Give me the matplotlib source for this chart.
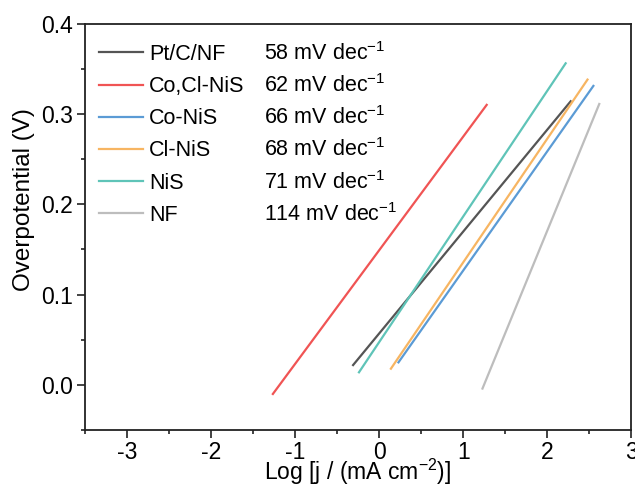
import matplotlib
matplotlib.use('Agg')
import matplotlib.pyplot as plt
from matplotlib.ticker import MultipleLocator

plt.rcParams['font.family'] = ['Liberation Sans', 'DejaVu Sans']
plt.rcParams['mathtext.fontset'] = 'custom'
plt.rcParams['mathtext.rm'] = 'Liberation Sans'
plt.rcParams['mathtext.it'] = 'Liberation Sans:italic'
plt.rcParams['mathtext.bf'] = 'Liberation Sans:bold'

# ---- data ----
samples = ['Pt/C/NF', 'Co,Cl-NiS', 'Co-NiS', 'Cl-NiS', 'NiS', 'NF']
slopes = ['58', '62', '66', '68', '71', '114']
x_start = [-0.31, -1.265, 0.23, 0.14, -0.24, 1.23]
x_end = [2.28, 1.28, 2.55, 2.48, 2.22, 2.62]
y_start = [0.022, -0.010, 0.025, 0.018, 0.014, -0.004]
y_end = [0.314, 0.310, 0.331, 0.338, 0.356, 0.311]
colors = ['#555555', '#f05454', '#5b9bd5', '#f7b562', '#5fc4b8', '#bdbdbd']

fig = plt.figure(figsize=(6.35, 4.91), dpi=100)
ax = fig.add_axes([0.134, 0.124, 0.86, 0.828])

handles = []
for name, xs, xe, ys, ye, c in zip(samples, x_start, x_end, y_start, y_end, colors):
    h, = ax.plot([xs, xe], [ys, ye], color=c, lw=1.6, label=name)
    handles.append(h)

ax.set_xlim(-3.5, 3)
ax.set_ylim(-0.05, 0.4)
ax.xaxis.set_minor_locator(MultipleLocator(0.5))
ax.yaxis.set_minor_locator(MultipleLocator(0.05))
ax.set_xticks([-3, -2, -1, 0, 1, 2, 3])
ax.set_xticklabels(['-3', '-2', '-1', '0', '1', '2', '3'])
ax.set_yticks([0.0, 0.1, 0.2, 0.3, 0.4])
ax.set_yticklabels(['0.0', '0.1', '0.2', '0.3', '0.4'])

for s in ax.spines.values():
    s.set_linewidth(1.3)
    s.set_color('#222222')
ax.tick_params(which='major', direction='out', length=5.5, width=1.2,
               labelsize=16.5, pad=3, color='#222222')
ax.tick_params(axis='x', which='major', pad=2.5)
ax.tick_params(which='minor', direction='out', length=3, width=1.2, color='#222222')

ax.set_xlabel('Log [j / (mA cm$^{-2}$)]', fontsize=16.5, labelpad=-5)
ax.set_ylabel('Overpotential (V)', fontsize=17.5, labelpad=2)
ax.yaxis.set_label_coords(-0.092, 0.567)

leg = ax.legend(handles=handles, loc='upper left', bbox_to_anchor=(0.025, 0.950),
                frameon=False, fontsize=15.5, handlelength=2.05, handletextpad=0.3,
                labelspacing=0.52, borderpad=0, borderaxespad=0)

fig.canvas.draw()
inv = ax.transAxes.inverted()
for t, sl in zip(leg.get_texts(), slopes):
    bx = t.get_transform().transform(t.get_position())
    _, yax = inv.transform(bx)
    ax.text(0.328, yax, sl + ' mV dec$^{-1}$', transform=ax.transAxes,
            fontsize=15.5, va='baseline', ha='left')

fig.savefig('out.png', dpi=100)
